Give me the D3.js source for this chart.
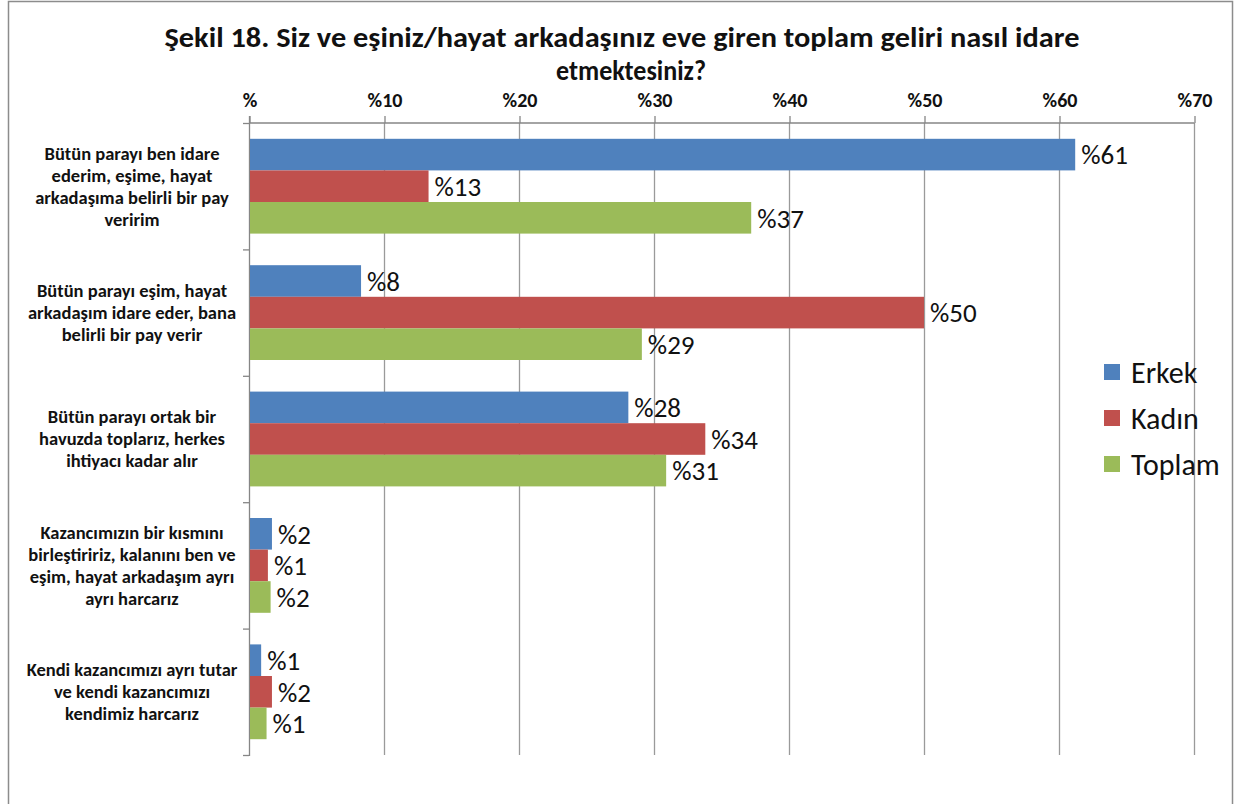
<!DOCTYPE html>
<html>
<head>
<meta charset="utf-8">
<script src="https://cdn.jsdelivr.net/npm/d3@7"></script>
<style>
  html, body { margin: 0; padding: 0; background: #fff; }
  svg { display: block; }
</style>
</head>
<body>
<svg id="chart" width="1235" height="804"></svg>
<script>
// ---- data ----
const titleLines = ["Şekil 18. Siz ve eşiniz/hayat arkadaşınız eve giren toplam geliri nasıl idare", "etmektesiniz?"];
const categories = [
  ["Bütün parayı ben idare", "ederim, eşime, hayat", "arkadaşıma belirli bir pay", "veririm"],
  ["Bütün parayı eşim, hayat", "arkadaşım idare eder, bana", "belirli bir pay verir"],
  ["Bütün parayı ortak bir", "havuzda toplarız, herkes", "ihtiyacı kadar alır"],
  ["Kazancımızın bir kısmını", "birleştiririz, kalanını ben ve", "eşim, hayat arkadaşım ayrı", "ayrı harcarız"],
  ["Kendi kazancımızı ayrı tutar", "ve kendi kazancımızı", "kendimiz harcarız"]
];
const seriesNames = ["Erkek", "Kadın", "Toplam"];
const erkek  = [61.2, 8.3, 28.1, 1.7, 0.9];
const kadin  = [13.3, 50.0, 33.8, 1.4, 1.7];
const toplam = [37.2, 29.1, 30.9, 1.6, 1.3];
const xTicks = [0, 10, 20, 30, 40, 50, 60, 70];
const colors = ["#4F81BD", "#C0504D", "#9BBB59"];

const seriesValues = [erkek, kadin, toplam];
const catKeys = categories.map((c, i) => "c" + i);

// ---- layout ----
const svg = d3.select("#chart");
const mLeft = 249, mRight = 1194, mTop = 123, mBottom = 755;
const fontMain = "Carlito, 'Liberation Sans Narrow', 'Open Sans', sans-serif";

// outer frame
svg.append("rect").attr("x", 8.5).attr("y", 1.5).attr("width", 1224).attr("height", 830)
  .attr("fill", "none").attr("stroke", "#8c8c8c").attr("stroke-width", 1.5);

const x = d3.scaleLinear().domain([0, 70]).range([mLeft, mRight]);
const y = d3.scaleBand().domain(catKeys).range([mTop, mBottom]).paddingInner(0.25).paddingOuter(0.125);
const ySub = d3.scaleBand().domain(seriesNames).range([0, y.bandwidth()]);

// title
const title = svg.append("g");
title.append("text").attr("x", 622).attr("y", 47).attr("text-anchor", "middle")
  .attr("font-family", fontMain).attr("font-weight", "bold").attr("font-size", 29)
  .attr("fill", "#111").attr("textLength", 915).attr("lengthAdjust", "spacingAndGlyphs")
  .text(titleLines[0]);
title.append("text").attr("x", 631).attr("y", 80).attr("text-anchor", "middle")
  .attr("font-family", fontMain).attr("font-weight", "bold").attr("font-size", 29)
  .attr("fill", "#111").attr("textLength", 150).attr("lengthAdjust", "spacingAndGlyphs")
  .text(titleLines[1]);

// gridlines
svg.append("g").selectAll("line").data(xTicks.slice(1)).join("line")
  .attr("x1", d => x(d) + 0.5).attr("x2", d => x(d) + 0.5)
  .attr("y1", mTop).attr("y2", mBottom)
  .attr("stroke", "#9a9a9a").attr("stroke-width", 1.3);

// top axis
const xAxis = d3.axisTop(x).tickValues(xTicks).tickSize(7).tickPadding(9)
  .tickFormat(d => d === 0 ? "%" : "%" + d);
const gx = svg.append("g").attr("transform", `translate(0.5,${mTop})`).call(xAxis);
gx.select(".domain").attr("stroke", "#868686").attr("stroke-width", 1.3).attr("d", `M${mLeft},0H${mRight}`);
gx.selectAll(".tick line").attr("stroke", "#868686").attr("stroke-width", 1.3);
gx.selectAll(".tick text").attr("font-family", fontMain).attr("font-weight", "bold")
  .attr("font-size", 20).attr("fill", "#111");

// left axis line with category boundary ticks
const ga = svg.append("g");
ga.append("line").attr("x1", mLeft + 0.5).attr("x2", mLeft + 0.5).attr("y1", mTop - 7).attr("y2", mBottom + 1)
  .attr("stroke", "#868686").attr("stroke-width", 1.3);
const bounds = d3.range(catKeys.length + 1).map(i => mTop + i * y.step());
ga.selectAll("line.b").data(bounds).join("line").attr("class", "b")
  .attr("x1", mLeft - 6).attr("x2", mLeft).attr("y1", d => d + 0.5).attr("y2", d => d + 0.5)
  .attr("stroke", "#868686").attr("stroke-width", 1.3);

// bars
const rows = [];
catKeys.forEach((k, ci) => seriesNames.forEach((s, si) => rows.push({ k, s, si, v: seriesValues[si][ci] })));
svg.append("g").selectAll("rect").data(rows).join("rect")
  .attr("x", mLeft + 1).attr("y", d => y(d.k) + ySub(d.s))
  .attr("width", d => x(d.v) - mLeft - 1).attr("height", ySub.bandwidth())
  .attr("fill", d => colors[d.si]);

// data labels
svg.append("g").selectAll("text").data(rows).join("text")
  .attr("x", d => x(d.v) + 6).attr("y", d => y(d.k) + ySub(d.s) + ySub.bandwidth() / 2)
  .attr("dy", "0.36em")
  .attr("font-family", fontMain).attr("font-size", 27).attr("fill", "#111")
  .text(d => "%" + Math.round(d.v));

// category labels
const gc = svg.append("g");
categories.forEach((lines, ci) => {
  const cy = y(catKeys[ci]) + y.bandwidth() / 2;
  const lh = 22;
  const t = gc.append("text").attr("text-anchor", "middle")
    .attr("font-family", fontMain).attr("font-weight", "bold").attr("font-size", 18.5).attr("fill", "#111");
  lines.forEach((ln, li) => {
    t.append("tspan").attr("x", 132)
      .attr("y", cy + (li - (lines.length - 1) / 2) * lh).attr("dy", "0.35em").text(ln);
  });
});

// legend
const lg = svg.append("g");
seriesNames.forEach((s, i) => {
  const ly = 372 + i * 46;
  lg.append("rect").attr("x", 1104).attr("y", ly - 8).attr("width", 16).attr("height", 16).attr("fill", colors[i]);
  lg.append("text").attr("x", 1131).attr("y", ly).attr("dy", "0.36em")
    .attr("font-family", fontMain).attr("font-size", 30).attr("fill", "#111").text(s);
});
</script>
</body>
</html>
